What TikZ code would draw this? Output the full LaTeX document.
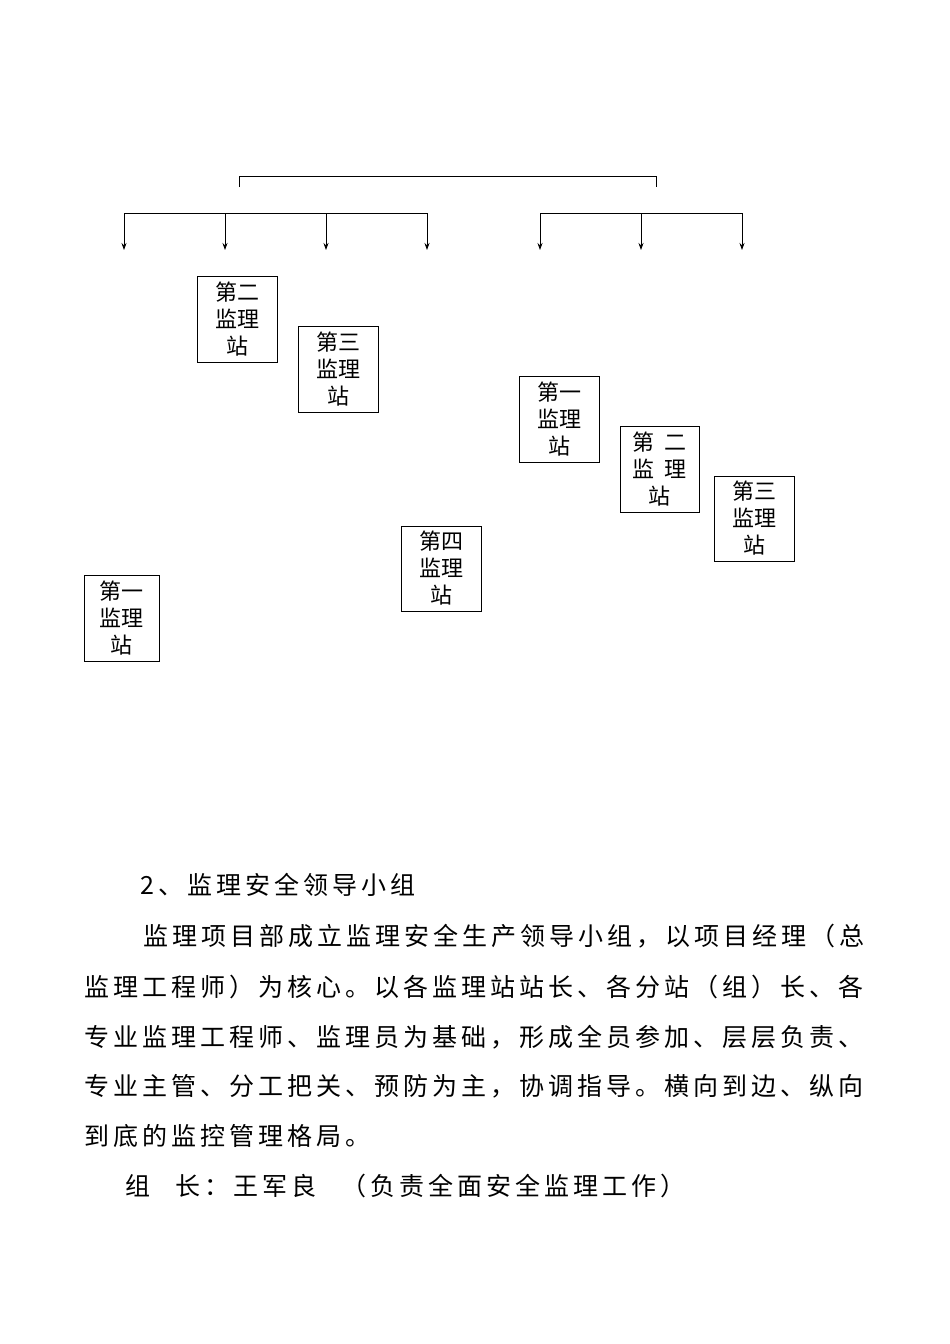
\documentclass[tikz,border=0pt]{standalone}
\usepackage{fontspec}
\newfontfamily\cjk{Noto Sans CJK SC}
\newfontfamily\cjkj[LetterSpace=16]{Noto Sans CJK SC}
\usetikzlibrary{arrows.meta}
\begin{document}
\begin{tikzpicture}[x=1pt,y=-1pt,
  stn/.style={draw,thick,align=center,inner sep=0pt,font=\cjk\fontsize{22}{27}\selectfont},
  ln/.style={anchor=base west,inner sep=0pt,font=\cjkj\fontsize{25}{25}\selectfont},
  arr/.style={thick,-{Stealth[length=7pt,width=5pt]}}]
\useasboundingbox (0,0) rectangle (950,1344);
% bracket
\coordinate (b1) at (239,187); \coordinate (b2) at (239,176);
\coordinate (b3) at (656,176); \coordinate (b4) at (656,187);
\draw[thick] (b1)--(b2)--(b3)--(b4);
% left bus
\coordinate (l1) at (124,213); \coordinate (l4) at (427,213);
\draw[thick] (l1)--(l4);
\foreach \x [count=\i] in {124,225,326,427}{
  \coordinate (lt\i) at (\x,213); \coordinate (lb\i) at (\x,250);
  \draw[arr] (lt\i)--(lb\i);}
\coordinate (r1) at (540,213); \coordinate (r3) at (742,213);
\draw[thick] (r1)--(r3);
\foreach \x [count=\i] in {540,641,742}{
  \coordinate (rt\i) at (\x,213); \coordinate (rb\i) at (\x,250);
  \draw[arr] (rt\i)--(rb\i);}
% boxes
\node[stn,minimum width=80pt,minimum height=86pt] (s2) at (237,319) {第二\\监理\\站};
\node[stn,minimum width=80pt,minimum height=86pt] (s3) at (338,369) {第三\\监理\\站};
\node[stn,minimum width=80pt,minimum height=86pt] (r1b) at (559,419) {第一\\监理\\站};
\node[stn,minimum width=79pt,minimum height=86pt] (r2b) at (659.5,469) {第\ \ 二\\监\ \ 理\\站};
\node[stn,minimum width=80pt,minimum height=85pt] (r3b) at (754,518.5) {第三\\监理\\站};
\node[stn,minimum width=80pt,minimum height=85pt] (s4) at (441,568.5) {第四\\监理\\站};
\node[stn,minimum width=75pt,minimum height=86pt] (s1) at (121.5,618) {第一\\监理\\站};
% text
\node[ln] (t0) at (140,894) {2、监理安全领导小组};
\node[ln] (t1) at (143,945) {监理项目部成立监理安全生产领导小组，以项目经理（总};
\node[ln] (t2) at (84,996) {监理工程师）为核心。以各监理站站长、各分站（组）长、各};
\node[ln] (t3) at (84,1046) {专业监理工程师、监理员为基础，形成全员参加、层层负责、};
\node[ln] (t4) at (84,1095) {专业主管、分工把关、预防为主，协调指导。横向到边、纵向};
\node[ln] (t5) at (84,1145) {到底的监控管理格局。};
\node[ln] (t6) at (125,1195) {组\quad 长：王军良\quad （负责全面安全监理工作）};
\end{tikzpicture}
\end{document}
